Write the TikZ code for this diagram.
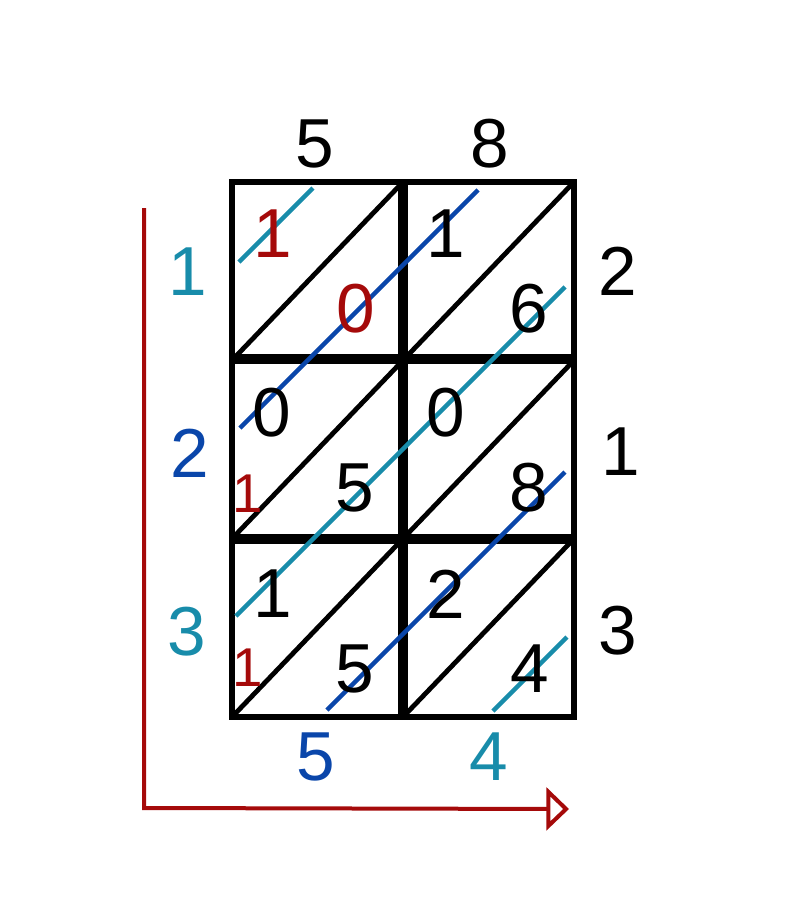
\documentclass[tikz,border=0pt]{standalone}
\usepackage{fontspec}
\setmainfont{Liberation Sans}
\usetikzlibrary{arrows.meta}
\definecolor{sumteal}{RGB}{24,140,170}
\definecolor{sumblue}{RGB}{10,70,170}
\definecolor{carryred}{RGB}{165,10,10}
\begin{document}
\begin{tikzpicture}[x=0.75pt,y=-0.75pt,
        digit/.style={font=\fontsize{52}{52}\selectfont,inner sep=0pt},
        smalldigit/.style={font=\fontsize{41}{41}\selectfont,inner sep=0pt,text=carryred},
        sumline/.style={line width=3.4pt},
        gridline/.style={line width=4.2pt}]
    \useasboundingbox (0,0) rectangle (794,900);
    % diagonals of the cells
    \foreach \i in {0,1}
        \foreach \j in {0,1,2}
            \draw[line width=3.6pt] ({232+171*\i},{182+178.33*(\j+1)}) -- ({232+171*(\i+1)},{182+178.33*\j});
    % grid
    \draw[gridline] (232,182) rectangle (574,717);
    \draw[line width=7pt] (403,182) -- (403,717);
    \draw[line width=7pt] (232,359) -- (574,359);
    \draw[line width=7pt] (232,539) -- (574,539);
    % summation lines
    \draw[sumline,sumteal] (239,262) -- (313,188);
    \draw[sumline,sumblue] (240,428) -- (478,190);
    \draw[sumline,sumteal] (236,616) -- (565,287);
    \draw[sumline,sumblue] (327,710) -- (565,472);
    \draw[sumline,sumteal] (493,711) -- (567,637);
    % factors
    \node[digit] (top5) at (315,144) {5};
    \node[digit] (top8) at (490,144) {8};
    \node[digit] (right2) at (618,271) {2};
    \node[digit] (right1) at (621,452) {1};
    \node[digit] (right3) at (618,631) {3};
    % partial products
    \node[digit,text=carryred] (p11a) at (273,234) {1};
    \node[digit,text=carryred] (p11b) at (356,309) {0};
    \node[digit] (p12a) at (446,234) {1};
    \node[digit] (p12b) at (529,309) {6};
    \node[digit] (p21a) at (272,413) {0};
    \node[digit] (p21b) at (355,488) {5};
    \node[digit] (p22a) at (446,413) {0};
    \node[digit] (p22b) at (529,488) {8};
    \node[digit] (p31a) at (273,594) {1};
    \node[digit] (p31b) at (355,669) {5};
    \node[digit] (p32a) at (446,594) {2};
    \node[digit] (p32b) at (530,669) {4};
    \node[smalldigit] (carry2) at (248,494) {1};
    \node[smalldigit] (carry3) at (248,668) {1};
    % result
    \node[digit,text=sumteal] (res1) at (188,272) {1};
    \node[digit,text=sumblue] (res2) at (190,453) {2};
    \node[digit,text=sumteal] (res3) at (187,632) {3};
    \node[digit,text=sumblue] (res5) at (316,757) {5};
    \node[digit,text=sumteal] (res4) at (489,757) {4};
    % reading direction
    \coordinate (start) at (144,208);
    \coordinate (corner) at (144,808);
    \coordinate (stop) at (569,809);
    \draw[carryred,line width=3pt,-{Triangle[open,length=17pt,width=32pt]}] (start) -- (corner) -- (stop);
\end{tikzpicture}
\end{document}
